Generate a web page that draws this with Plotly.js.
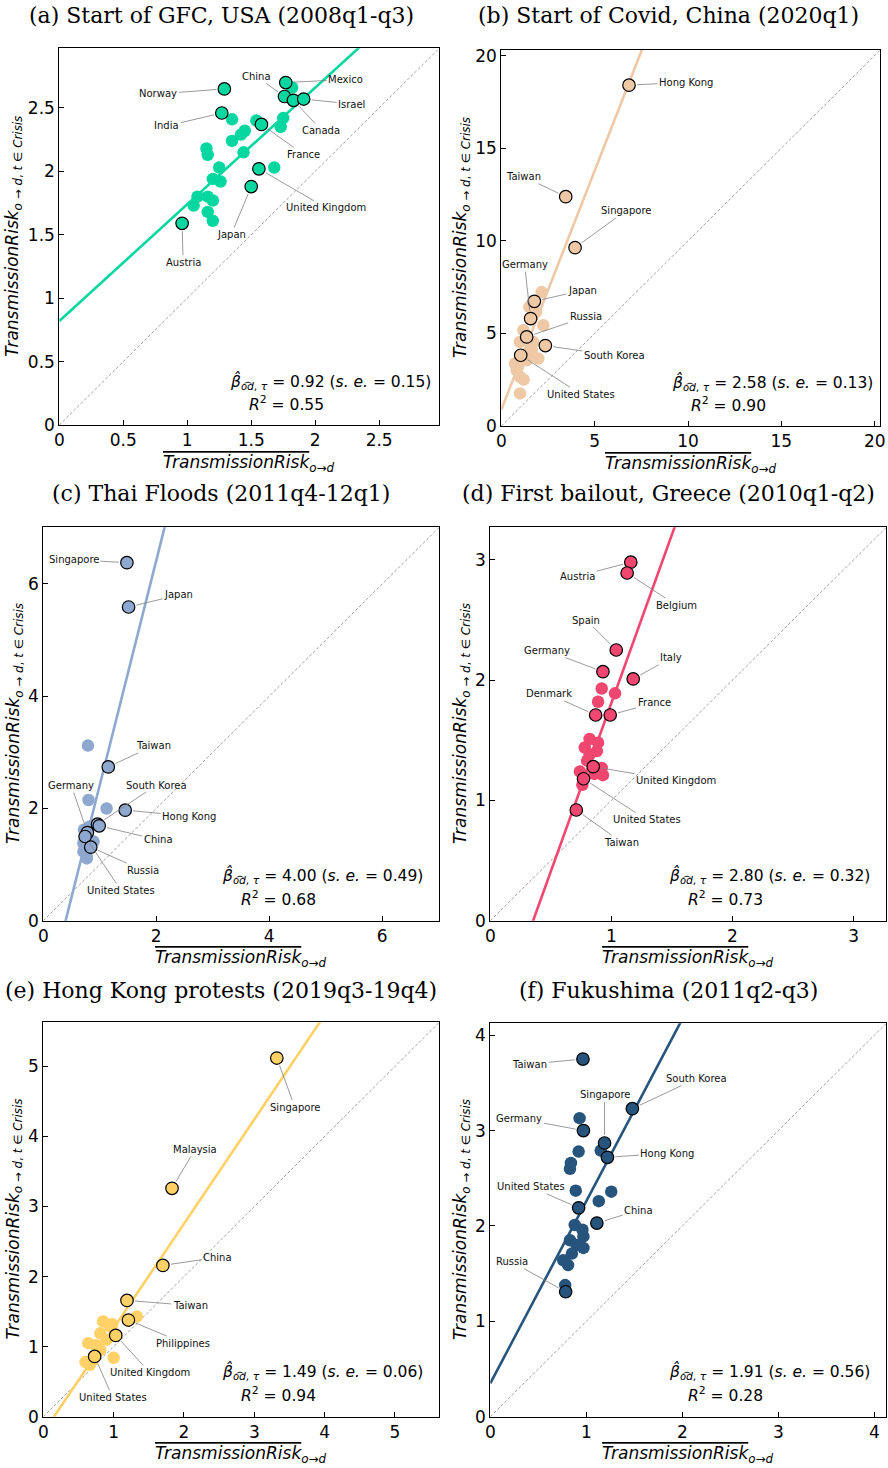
<!DOCTYPE html>
<html><head><meta charset="utf-8">
<script src="https://cdn.plot.ly/plotly-3.0.1.min.js"></script>
<style>body{margin:0;background:#fff}</style>
</head><body><div id="chart" style="width:888px;height:1468px"></div>
<script>
// ---------- DATA ----------
const panelTitles = [
  '(a) Start of GFC, USA (2008q1-q3)',
  '(b) Start of Covid, China (2020q1)',
  '(c) Thai Floods (2011q4-12q1)',
  '(d) First bailout, Greece (2010q1-q2)',
  '(e) Hong Kong protests (2019q3-19q4)',
  '(f) Fukushima (2011q2-q3)'
];
const slopes = [0.92, 2.58, 4.00, 2.80, 1.49, 1.91];
const stdErrs = [0.15, 0.13, 0.49, 0.32, 0.06, 0.56];
const rSquared = [0.55, 0.90, 0.68, 0.73, 0.94, 0.28];
const intercepts = [0.82, 0.88, -1.58, -0.99, -0.226, 0.35];

// (a)
const a_names = ['Austria','Japan','United Kingdom','France','India','Norway','China','Mexico','Canada','Israel'];
const a_x = [0.96, 1.50, 1.56, 1.58, 1.27, 1.29, 1.76, 1.77, 1.83, 1.91];
const a_y = [1.59, 1.88, 2.02, 2.37, 2.46, 2.65, 2.59, 2.70, 2.56, 2.57];
const a_otherX = [1.82, 1.35, 1.54, 1.75, 1.73, 1.45, 1.42, 1.35, 1.44, 1.15, 1.16, 1.25, 1.68, 1.20, 1.26, 1.08, 1.16, 1.20, 1.05, 1.16, 1.20];
const a_otherY = [2.66, 2.41, 2.40, 2.42, 2.35, 2.32, 2.29, 2.24, 2.15, 2.18, 2.13, 2.03, 2.03, 1.94, 1.92, 1.80, 1.80, 1.77, 1.73, 1.68, 1.61];
// (b)
const b_names = ['United States','South Korea','Russia','Germany','Japan','Singapore','Taiwan','Hong Kong'];
const b_x = [1.04, 2.36, 1.36, 1.57, 1.77, 3.95, 3.45, 6.84];
const b_y = [3.82, 4.34, 4.81, 5.80, 6.73, 9.63, 12.38, 18.40];
const b_otherX = [2.16, 2.25, 1.50, 1.86, 1.18, 1.00, 1.71, 1.63, 1.98, 1.54, 0.73, 0.82, 1.00, 1.00, 1.36, 0.90, 1.20];
const b_otherY = [7.23, 5.44, 6.42, 6.15, 5.17, 4.54, 4.54, 4.09, 3.64, 3.82, 3.37, 3.01, 2.65, 1.76, 3.55, 3.20, 2.50];
// (c)
const c_names = ['Germany','United States','Russia','South Korea','China','Hong Kong','Taiwan','Japan','Singapore'];
const c_x = [0.78, 0.74, 0.84, 0.96, 0.99, 1.45, 1.15, 1.51, 1.48];
const c_y = [1.57, 1.50, 1.31, 1.72, 1.69, 1.97, 2.74, 5.59, 6.38];
const c_otherX = [0.79, 0.80, 1.12, 0.72, 0.71, 0.74, 0.77, 0.89, 0.71, 0.77, 0.82];
const c_otherY = [3.12, 2.15, 2.00, 1.62, 1.38, 1.26, 1.14, 1.41, 1.23, 1.11, 1.68];
// (d)
const d_names = ['Taiwan','United States','United Kingdom','Denmark','France','Italy','Germany','Spain','Austria','Belgium'];
const d_x = [0.71, 0.77, 0.85, 0.87, 0.99, 1.18, 0.93, 1.04, 1.16, 1.13];
const d_y = [0.92, 1.18, 1.28, 1.71, 1.71, 2.01, 2.07, 2.25, 2.98, 2.89];
const d_otherX = [0.92, 1.03, 0.89, 0.82, 0.78, 0.88, 0.82, 0.92, 0.93, 0.74, 0.76, 0.86, 0.80, 0.89];
const d_otherY = [1.93, 1.89, 1.82, 1.51, 1.44, 1.41, 1.38, 1.27, 1.21, 1.24, 1.13, 1.22, 1.33, 1.48];
// (e)
const e_names = ['United States','United Kingdom','Philippines','Taiwan','China','Malaysia','Singapore'];
const e_x = [0.73, 1.03, 1.21, 1.19, 1.70, 1.83, 3.32];
const e_y = [0.86, 1.16, 1.38, 1.66, 2.16, 3.26, 5.12];
const e_otherX = [1.33, 0.85, 0.95, 0.81, 0.64, 1.00, 0.66, 0.81, 0.90, 0.70, 0.98, 0.75, 0.60];
const e_otherY = [1.43, 1.36, 1.29, 1.19, 1.05, 0.84, 0.74, 0.95, 1.10, 0.80, 1.32, 1.02, 0.78];
// (f)
const f_names = ['Russia','China','United States','Hong Kong','Singapore','Germany','South Korea','Taiwan'];
const f_x = [0.785, 1.11, 0.92, 1.22, 1.19, 0.97, 1.48, 0.965];
const f_y = [1.31, 2.03, 2.19, 2.72, 2.87, 3.00, 3.23, 3.75];
const f_otherX = [0.93, 0.92, 1.15, 0.84, 0.83, 0.89, 1.26, 1.13, 0.88, 0.96, 0.97, 0.83, 0.97, 0.85, 0.76, 0.81, 0.78, 0.90];
const f_otherY = [3.13, 2.78, 2.79, 2.66, 2.60, 2.37, 2.36, 2.26, 2.01, 1.96, 1.89, 1.85, 1.77, 1.71, 1.64, 1.59, 1.38, 1.80];

// ---------- STYLE / LAYOUT CONFIG ----------
const W = 888, H = 1468;
const colors = ['#06d6a0', '#efc8a6', '#8fa8cf', '#ef476f', '#ffd166', '#26547c'];
const axisMax = [2.97, 20.3, 7.01, 3.27, 5.63, 4.125];
const dticks = [0.5, 5, 2, 1, 1, 1];
// plot frames in pixels: left, right, top, bottom
const boxes = [[59.3,439.3,48.3,425],[501.3,880.3,50,426],[43.3,439.3,527.3,920.7],[490.3,886.3,527.3,920.7],[43.3,439.3,1022.3,1416.7],[490.3,886.3,1023.3,1416.7]];
const titlePos = [[221,15],[668,15],[221,493],[668,493],[221,990],[668,990]];
const yTitleX = [14, 461, 14, 461, 14, 461];
const labelOffsets = [
  [[1,39],[-20,48],[67,39],[42,30],[-55,13],[-66,5],[-28,-20],[60,-3],[28,30],[48,5]],
  [[60,39],[69,10],[59,-20],[-6,-54],[48,-11],[51,-37],[-42,-20],[57,-3]],
  [[-16,-47],[36,54],[52,23],[59,-39],[59,14],[64,6],[45,-21],[50,-12],[-53,-3]],
  [[45,32],[63,41],[83,14],[-47,-21],[44,-12],[38,-21],[-56,-21],[-30,-30],[-53,14],[49,32]],
  [[18,41],[34,37],[55,23],[63,5],[55,-8],[23,-39],[18,49]],
  [[-54,-30],[42,-13],[-48,-21],[60,-4],[0,-48],[-64,-12],[64,-30],[-53,5]]
];

const panels = [
  {names:a_names, x:a_x, y:a_y, ox:a_otherX, oy:a_otherY},
  {names:b_names, x:b_x, y:b_y, ox:b_otherX, oy:b_otherY},
  {names:c_names, x:c_x, y:c_y, ox:c_otherX, oy:c_otherY},
  {names:d_names, x:d_x, y:d_y, ox:d_otherX, oy:d_otherY},
  {names:e_names, x:e_x, y:e_y, ox:e_otherX, oy:e_otherY},
  {names:f_names, x:f_x, y:f_y, ox:f_otherX, oy:f_otherY}
];

const FONT = 'DejaVu Sans';
const traces = [];
const annotations = [];
const layout = {
  width: W, height: H, margin: {l:0, r:0, t:0, b:0},
  paper_bgcolor: '#fff', plot_bgcolor: '#fff', showlegend: false,
  font: {family: FONT, color: '#000'}
};

panels.forEach((p, i) => {
  const id = i === 0 ? '' : String(i + 1);
  const xa = 'x' + id, ya = 'y' + id;
  const [l, r, t, b] = boxes[i];
  const mx = axisMax[i];
  const axCommon = {
    range: [0, mx], dtick: dticks[i], tick0: 0, showgrid: false, zeroline: false,
    showline: true, mirror: true, linecolor: '#000', linewidth: 1,
    ticks: 'inside', ticklen: 5, tickwidth: 1, tickcolor: '#000',
    tickfont: {family: FONT, size: 17, color: '#000'}, fixedrange: true
  };
  layout['xaxis' + id] = Object.assign({}, axCommon, {domain: [l / W, r / W], anchor: ya});
  layout['yaxis' + id] = Object.assign({}, axCommon, {domain: [1 - b / H, 1 - t / H], anchor: xa});

  // 45-degree reference line
  traces.push({x: [0, mx], y: [0, mx], xaxis: xa, yaxis: ya, mode: 'lines',
    line: {color: '#888', width: 0.8, dash: '3px,2px'}, hoverinfo: 'skip'});
  // fitted line
  traces.push({x: [0, mx], y: [intercepts[i], intercepts[i] + slopes[i] * mx], xaxis: xa, yaxis: ya,
    mode: 'lines', line: {color: colors[i], width: 2.6}, hoverinfo: 'skip'});
  // other pairs
  traces.push({x: p.ox, y: p.oy, xaxis: xa, yaxis: ya, mode: 'markers',
    marker: {size: 12.5, color: colors[i], line: {width: 0}}});
  // labelled pairs
  traces.push({x: p.x, y: p.y, text: p.names, xaxis: xa, yaxis: ya, mode: 'markers',
    marker: {size: 12.5, color: colors[i], line: {width: 1.2, color: '#000'}}});

  p.names.forEach((n, k) => {
    annotations.push({x: p.x[k], y: p.y[k], xref: xa, yref: ya, text: n,
      showarrow: true, arrowhead: 0, arrowwidth: 0.8, arrowcolor: '#808080',
      ax: labelOffsets[i][k][0], ay: labelOffsets[i][k][1], standoff: 8,
      font: {family: FONT, size: 10, color: '#111'}});
  });

  // panel title
  annotations.push({xref: 'paper', yref: 'paper', x: titlePos[i][0] / W, y: 1 - titlePos[i][1] / H,
    xanchor: 'center', yanchor: 'middle', showarrow: false, text: panelTitles[i],
    font: {family: 'DejaVu Serif', size: 22, color: '#000'}});
  // y title
  annotations.push({xref: 'paper', yref: 'paper', x: yTitleX[i] / W, y: 1 - ((t + b) / 2) / H,
    xanchor: 'center', yanchor: 'middle', showarrow: false, textangle: -90,
    text: '<i>TransmissionRisk</i><sub><i>o</i> → <i>d</i>, <i>t</i> ∈ <i>Crisis</i></sub>',
    font: {family: FONT, size: 17, color: '#000'}});
  // x title
  annotations.push({xref: 'paper', yref: 'paper', x: ((l + r) / 2) / W, y: 1 - (b + 38) / H,
    xanchor: 'center', yanchor: 'middle', showarrow: false,
    text: '<span style="text-decoration:overline"><i>TransmissionRisk</i></span><sub><i>o</i>→<i>d</i></sub>',
    font: {family: FONT, size: 17, color: '#000'}});
  // stats
  annotations.push({xref: xa + ' domain', yref: ya + ' domain', x: 0.445, y: 0.114,
    xanchor: 'left', yanchor: 'middle', showarrow: false,
    text: '<i>β\u0302</i><sub><i>o\u1DCDd</i>, <i>τ</i></sub> = ' + slopes[i].toFixed(2) + ' (<i>s. e.</i> = ' + stdErrs[i].toFixed(2) + ')',
    font: {family: FONT, size: 15.5, color: '#000'}});
  annotations.push({xref: xa + ' domain', yref: ya + ' domain', x: 0.494, y: 0.056,
    xanchor: 'left', yanchor: 'middle', showarrow: false,
    text: '<i>R</i><sup>2</sup> = ' + rSquared[i].toFixed(2),
    font: {family: FONT, size: 15.5, color: '#000'}});
});

layout.annotations = annotations;
Plotly.newPlot('chart', traces, layout, {displayModeBar: false, staticPlot: true});
</script></body></html>
